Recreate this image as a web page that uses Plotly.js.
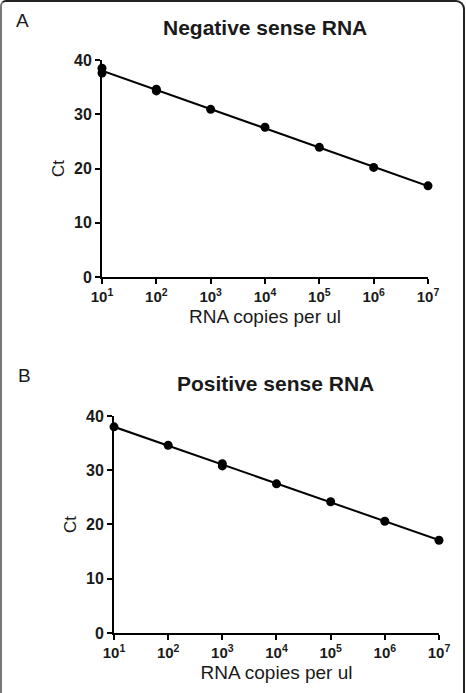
<!DOCTYPE html>
<html>
<head>
<meta charset="utf-8">
<script src="https://cdn.plot.ly/plotly-3.0.1.min.js"></script>
<style>
  html, body { margin: 0; padding: 0; background: #fff; overflow: hidden; }
  #wrap { position: relative; width: 467px; height: 693px; }
  #frame {
    position: absolute; left: 0; top: 0; width: 461px; height: 720px; z-index: 0;
    border-left: 2px solid #777; border-top: 2px solid #222; border-right: 2px solid #222;
    border-radius: 6px 9px 0 0;
  }
  #chart { position: absolute; left: 0; top: 0; width: 467px; height: 693px; z-index: 1; }
</style>
</head>
<body>
<div id="wrap">
  <div id="frame"></div>
  <div id="chart"></div>
</div>
<script>
// Standard curves: Ct against RNA copies per ul (replicate wells at each dilution)
const negCopies = [1e1, 1e1, 1e2, 1e2, 1e3, 1e4, 1e5, 1e6, 1e7];
const negCt     = [38.5, 37.6, 34.6, 34.3, 30.9, 27.6, 23.9, 20.2, 16.8];

const posCopies = [1e1, 1e2, 1e3, 1e3, 1e4, 1e5, 1e6, 1e7];
const posCt     = [38.0, 34.6, 31.2, 30.8, 27.5, 24.2, 20.6, 17.1];

const tickValsX = [1e1, 1e2, 1e3, 1e4, 1e5, 1e6, 1e7];
const tickTextX = ['10<sup>1</sup>', '10<sup>2</sup>', '10<sup>3</sup>', '10<sup>4</sup>',
                   '10<sup>5</sup>', '10<sup>6</sup>', '10<sup>7</sup>'];
const tickValsY = [0, 10, 20, 30, 40];

const panelTitles = ['Negative sense RNA', 'Positive sense RNA'];
const panelLetters = ['A', 'B'];
const xTitle = 'RNA copies per ul';
const yTitle = 'Ct';

// least-squares fit of Ct on log10(copies), drawn across the full dilution range
function fitLine(xs, ys) {
  const lx = xs.map(v => Math.log10(v));
  const n = lx.length;
  const mx = lx.reduce((a, b) => a + b, 0) / n;
  const my = ys.reduce((a, b) => a + b, 0) / n;
  let sxy = 0, sxx = 0;
  for (let i = 0; i < n; i++) { sxy += (lx[i] - mx) * (ys[i] - my); sxx += (lx[i] - mx) ** 2; }
  const slope = sxy / sxx, icpt = my - slope * mx;
  const x0 = tickValsX[0], x1 = tickValsX[tickValsX.length - 1];
  return { x: [x0, x1], y: [icpt + slope * Math.log10(x0), icpt + slope * Math.log10(x1)] };
}

const FONT = '"Liberation Sans", Arial, Helvetica, sans-serif';
const INK = '#1a1a1a';

function lineTrace(xs, ys, xa, ya) {
  const f = fitLine(xs, ys);
  return { x: f.x, y: f.y, xaxis: xa, yaxis: ya, mode: 'lines', type: 'scatter',
           line: { color: '#000', width: 2 }, cliponaxis: false, hoverinfo: 'skip', showlegend: false };
}
function pointTrace(xs, ys, xa, ya) {
  return { x: xs, y: ys, xaxis: xa, yaxis: ya, mode: 'markers', type: 'scatter',
           marker: { color: '#000', size: 9 }, cliponaxis: false, showlegend: false };
}

const data = [
  lineTrace(negCopies, negCt, 'x', 'y'),
  pointTrace(negCopies, negCt, 'x', 'y'),
  lineTrace(posCopies, posCt, 'x2', 'y2'),
  pointTrace(posCopies, posCt, 'x2', 'y2')
];

function xAxis(domain, anchor) {
  return {
    domain: domain, anchor: anchor, type: 'log', range: [1, 7],
    tickvals: tickValsX, ticktext: tickTextX,
    tickfont: { family: FONT, size: 15, color: INK, weight: 'bold' },
    ticks: 'outside', ticklen: 5, tickwidth: 2, tickcolor: '#000',
    showline: true, linecolor: '#000', linewidth: 2, showgrid: false, zeroline: false,
    title: { text: xTitle, font: { family: FONT, size: 19, color: INK }, standoff: 6 }
  };
}
function yAxis(domain, anchor) {
  return {
    domain: domain, anchor: anchor, range: [0, 40],
    tickvals: tickValsY,
    tickfont: { family: FONT, size: 16, color: INK, weight: 'bold' },
    ticks: 'outside', ticklen: 5, tickwidth: 2, tickcolor: '#000',
    showline: true, linecolor: '#000', linewidth: 2, showgrid: false, zeroline: false,
    title: { text: yTitle, font: { family: FONT, size: 17, color: INK }, standoff: 5 }
  };
}

const layout = {
  width: 467, height: 693,
  margin: { l: 0, r: 0, t: 0, b: 0 },
  paper_bgcolor: 'rgba(0,0,0,0)', plot_bgcolor: 'rgba(0,0,0,0)',
  font: { family: FONT, color: INK },
  hovermode: false,
  xaxis: xAxis([0.2184, 0.9165], 'y'),
  yaxis: yAxis([0.6003, 0.9134], 'x'),
  xaxis2: xAxis([0.2441, 0.9400], 'y2'),
  yaxis2: yAxis([0.0866, 0.3997], 'x2'),
  annotations: [
    { text: panelTitles[0], xref: 'paper', yref: 'paper', x: 0.5675, y: 1 - 27 / 693,
      showarrow: false, xanchor: 'center', yanchor: 'middle',
      font: { family: FONT, size: 21, color: INK, weight: 'bold' } },
    { text: panelTitles[1], xref: 'paper', yref: 'paper', x: 0.5910, y: 1 - 383 / 693,
      showarrow: false, xanchor: 'center', yanchor: 'middle',
      font: { family: FONT, size: 21, color: INK, weight: 'bold' } },
    { text: panelLetters[0], xref: 'paper', yref: 'paper', x: 14 / 467, y: 1 - 21 / 693,
      showarrow: false, xanchor: 'left', yanchor: 'middle',
      font: { family: FONT, size: 19, color: INK } },
    { text: panelLetters[1], xref: 'paper', yref: 'paper', x: 16 / 467, y: 1 - 375 / 693,
      showarrow: false, xanchor: 'left', yanchor: 'middle',
      font: { family: FONT, size: 19, color: INK } }
  ]
};

Plotly.newPlot('chart', data, layout, { displayModeBar: false });
</script>
</body>
</html>
